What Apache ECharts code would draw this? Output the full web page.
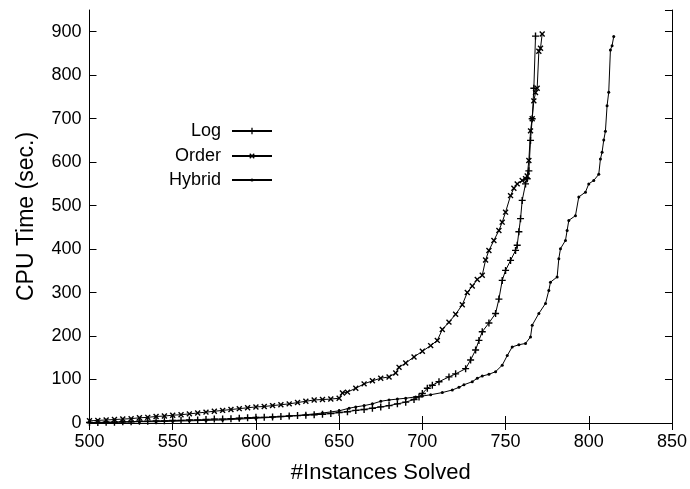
<!DOCTYPE html>
<html>
<head>
<meta charset="utf-8">
<script src="https://cdn.jsdelivr.net/npm/echarts@6/dist/echarts.min.js"></script>
<style>
    html, body { margin: 0; padding: 0; background: #fff; }
    #chart { width: 690px; height: 489px; }
</style>
</head>
<body>
<div id="chart"></div>
<script>
// values: [instances solved, cpu seconds]
const logData = [
    [500, 1], [505, 1], [510, 2], [515, 2], [520, 3], [525, 3], [530, 4], [535, 4], [540, 5], [545, 5],
    [550, 6], [555, 6], [560, 7], [565, 7], [570, 8], [575, 9], [580, 9], [585, 10], [590, 11], [595, 12],
    [600, 13], [605, 13], [610, 14], [615, 15], [620, 16], [625, 17], [630, 18], [635, 19], [640, 20], [645, 22],
    [650, 24], [655, 26], [660, 29], [665, 31], [670, 34], [675, 37], [680, 40], [685, 44], [690, 48], [695, 54],
    [698, 60], [700, 68], [703, 80], [706, 87], [710, 95], [716, 106], [720, 113], [726, 125], [729, 145], [732, 168],
    [734, 190], [736, 210], [740, 230], [744, 252], [746, 285], [748, 328], [750, 351], [753, 374], [756, 397], [757, 409],
    [758, 440], [759, 470], [760, 512], [762, 550], [763, 562], [764, 580], [765, 650], [766, 700], [767, 770], [768, 890]
]
const orderData = [
    [500, 5], [505, 6], [510, 7], [515, 8], [520, 9], [525, 10], [530, 12], [535, 13], [540, 15], [545, 16],
    [550, 18], [555, 19], [560, 21], [565, 23], [570, 25], [575, 27], [580, 29], [585, 31], [590, 33], [595, 35],
    [600, 37], [605, 38], [610, 40], [615, 42], [620, 44], [625, 47], [630, 50], [635, 53], [640, 54], [645, 55],
    [650, 57], [652, 69], [655, 71], [660, 80], [665, 90], [670, 97], [675, 103], [680, 106], [684, 115], [686, 128],
    [690, 138], [695, 152], [700, 165], [705, 178], [709, 190], [712, 215], [716, 232], [720, 250], [724, 272], [727, 300],
    [730, 315], [733, 330], [736, 340], [738, 375], [740, 397], [743, 420], [746, 443], [748, 462], [750, 485], [753, 523],
    [755, 540], [757, 550], [760, 558], [762, 562], [763, 568], [764, 604], [765, 672], [766, 700], [767, 741], [768, 760],
    [769, 770], [770, 855], [771, 862], [772, 895]
]
const hybridData = [
    [500, 1], [510, 1], [520, 2], [530, 3], [540, 3], [550, 4], [560, 5], [570, 6], [580, 7], [590, 9],
    [600, 11], [610, 13], [620, 16], [630, 19], [640, 23], [650, 28], [656, 34], [660, 37], [665, 40], [670, 44],
    [675, 50], [680, 53], [685, 55], [690, 57], [696, 60], [700, 62], [705, 65], [712, 70], [718, 76], [722, 82],
    [725, 88], [730, 95], [733, 103], [736, 108], [740, 112], [744, 118], [748, 133], [751, 155], [754, 175], [758, 180],
    [762, 183], [765, 198], [766, 225], [770, 252], [774, 275], [776, 305], [777, 324], [781, 336], [782, 378], [783, 401],
    [786, 420], [787, 443], [788, 466], [792, 477], [794, 520], [798, 531], [800, 550], [803, 558], [806, 572], [807, 607],
    [808, 623], [809, 651], [810, 671], [811, 730], [812, 761], [813, 858], [814, 868], [815, 889]
]
const seriesNames = ['Log', 'Order', 'Hybrid']

const plusPath = 'path://M4,0H6V4H10V6H6V10H4V6H0V4H4Z'
const font = '"Liberation Sans", Arial, Helvetica, sans-serif'

let chartInstance = echarts.init(document.getElementById('chart'))

const axisLine = { show: true, lineStyle: { color: '#000', width: 1 } }
const tickIn = { show: true, inside: true, length: 7, lineStyle: { color: '#000', width: 1 } }

const mkSeries = (name, data, symbol, size, rotate) => {
    return {
        name: name,
        type: 'line',
        data: data,
        symbol: symbol,
        symbolSize: size,
        symbolRotate: rotate,
        showSymbol: true,
        showAllSymbol: true,
        lineStyle: { color: '#000', width: 1 },
        itemStyle: { color: '#000', borderWidth: 0 },
        emphasis: { disabled: true },
        z: 3
    }
}

const mkLegend = (name, top, iconSize) => {
    return {
        data: [name],
        orient: 'vertical',
        right: 412,
        top: top,
        align: 'right',
        itemWidth: 40,
        itemHeight: iconSize,
        textStyle: { fontFamily: font, fontSize: 18, color: '#000', padding: [0, 6, 0, 0] }
    }
}

const option = {
    animation: false,
    backgroundColor: '#fff',
    grid: { left: 89.5, right: 16, top: 10, bottom: 66 },
    legend: [mkLegend('Log', 117, 8), mkLegend('Order', 142, 8), mkLegend('Hybrid', 166, 4)],
    xAxis: [
        {
            type: 'value', min: 500, max: 850, interval: 50, position: 'bottom',
            name: '#Instances Solved', nameLocation: 'middle', nameGap: 39,
            nameTextStyle: { fontFamily: font, fontSize: 22, color: '#000' },
            axisLine: axisLine, axisTick: tickIn, splitLine: { show: false },
            axisLabel: { fontFamily: font, fontSize: 18, color: '#000', margin: 10 }
        },
        {
            type: 'value', min: 500, max: 850, interval: 50, position: 'top',
            axisLine: axisLine, axisTick: tickIn, splitLine: { show: false },
            axisLabel: { show: false }
        }
    ],
    yAxis: [
        {
            type: 'value', min: 0, max: 950, interval: 100, position: 'left',
            name: 'CPU Time (sec.)', nameLocation: 'middle', nameGap: 51,
            nameTextStyle: { fontFamily: font, fontSize: 23, color: '#000' },
            axisLine: axisLine, axisTick: tickIn, splitLine: { show: false },
            axisLabel: { fontFamily: font, fontSize: 18, color: '#000', margin: 8, showMaxLabel: false }
        },
        {
            type: 'value', min: 0, max: 950, interval: 100, position: 'right',
            axisLine: axisLine, axisTick: tickIn, splitLine: { show: false },
            axisLabel: { show: false }
        }
    ],
    series: [
        mkSeries(seriesNames[0], logData, plusPath, 7, 0),
        mkSeries(seriesNames[1], orderData, plusPath, 7, 45),
        mkSeries(seriesNames[2], hybridData, 'circle', 3, 0)
    ]
}

chartInstance.setOption(option)
</script>
</body>
</html>
